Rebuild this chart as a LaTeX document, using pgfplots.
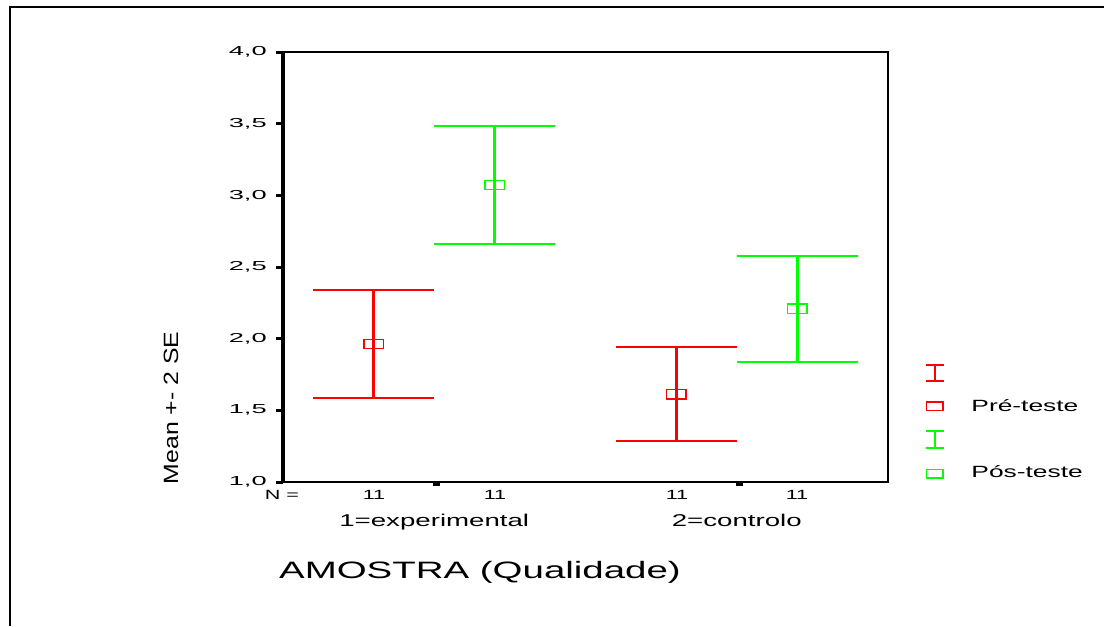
\documentclass[border=0pt]{standalone}
\usepackage{fontspec}
\setmainfont{Liberation Sans}[FakeStretch=1.62]
\newfontfamily\tickf{Liberation Sans}[FakeStretch=2.1]
\newfontfamily\ylabf{Liberation Sans}[FakeStretch=1.2]
\usepackage{pgfplots}
\usepackage{pgfplotstable}
\pgfplotsset{compat=1.18}

\definecolor{spssred}{RGB}{255,0,0}
\definecolor{spssgreen}{RGB}{0,255,0}

% mean and mean +- 2 SE per group
\pgfplotstableread{
x   mean  lo    hi
0.8 1.963 1.586 2.340
1.8 1.612 1.286 1.942
}\pretab
\pgfplotstableread{
x   mean  lo    hi
1.2 3.072 2.661 3.486
2.2 2.210 1.837 2.579
}\postab

\begin{document}
\begin{tikzpicture}
\path[use as bounding box] (0,0) rectangle (828pt,469.5pt);
\begin{axis}[
    at={(212.25pt,108pt)}, anchor=south west,
    scale only axis,
    width=453.75pt, height=322.5pt,
    xmin=0.5, xmax=2.5, ymin=1, ymax=4,
    ytick={1,1.5,2,2.5,3,3.5,4},
    xtick={1,2},
    xticklabels={1=experimental,2=controlo},
    xtick pos=bottom, ytick pos=left,
    tick align=outside,
    major tick length=5.25pt,
    xtick style={draw=none},
    ytick style={line width=2.25pt, black},
    axis line style={line width=1.5pt},
    /pgf/number format/.cd, use comma, fixed, fixed zerofill, precision=1, assume math mode=true, /pgfplots/.cd,
    yticklabel style={font=\tickf\fontsize{9.75}{10}\selectfont, anchor=east, inner sep=0pt, xshift=-6.75pt},
    xticklabel style={font=\fontsize{12.8}{14}\selectfont, anchor=base, inner sep=0pt, yshift=-28pt},
    clip=false,
    legend style={draw=none, fill=none, inner sep=0pt, outer sep=0pt,
        at={(1.0612,0.2767)}, anchor=north west,
        font=\fontsize{12.2}{14}\selectfont,
        row sep=0pt, column sep=20pt,
        nodes={inner sep=0pt, text height=12pt, text depth=12.6pt, anchor=west}},
    legend cell align=left,
]
\addplot[spssred, only marks, forget plot,
    mark=square, mark size=3.5pt, mark options={xscale=2.1, line width=1.1pt},
    error bars/.cd, y dir=both, y explicit, error mark=|,
    error bar style={line width=2.25pt, spssred},
    error mark options={spssred, line width=1.5pt, mark size=45.4pt}]
    table[x=x, y=mean, y error plus expr=\thisrow{hi}-\thisrow{mean}, y error minus expr=\thisrow{mean}-\thisrow{lo}] {\pretab};
\addplot[spssgreen, only marks, forget plot,
    mark=square, mark size=3.5pt, mark options={xscale=2.1, line width=1.1pt},
    error bars/.cd, y dir=both, y explicit, error mark=|,
    error bar style={line width=2.25pt, spssgreen},
    error mark options={spssgreen, line width=1.5pt, mark size=45.4pt}]
    table[x=x, y=mean, y error plus expr=\thisrow{hi}-\thisrow{mean}, y error minus expr=\thisrow{mean}-\thisrow{lo}] {\postab};

\addlegendimage{legend image code/.code={
    \draw[spssred, line width=1.3pt] (0pt,-1.4pt)--(13.5pt,-1.4pt) (0pt,10.6pt)--(13.5pt,10.6pt) (6.75pt,-1.4pt)--(6.75pt,10.6pt);}}
\addlegendentry{}
\addlegendimage{legend image code/.code={
    \draw[spssred, line width=1.1pt] (0.5pt,1.1pt) rectangle (13pt,7.5pt);}}
\addlegendentry{Pré-teste}
\addlegendimage{legend image code/.code={
    \draw[spssgreen, line width=1.3pt] (0pt,-2.5pt)--(13.5pt,-2.5pt) (0pt,10.3pt)--(13.5pt,10.3pt) (6.75pt,-2.5pt)--(6.75pt,10.3pt);}}
\addlegendentry{}
\addlegendimage{legend image code/.code={
    \draw[spssgreen, line width=1.1pt] (0.5pt,0pt) rectangle (13pt,6.4pt);}}
\addlegendentry{Pós-teste}
\end{axis}

% pixel frame: 1 px = 0.75 pt, origin at top left
\begin{scope}[x=0.75pt, y=-0.75pt, shift={(0pt,469.5pt)}]
\draw[line width=1.5pt] (10,626) -- (10,7) -- (1104,7);
\draw[line width=2.7pt] (283,482) -- (283,52);
\draw[line width=2pt] (283,482) -- (888,482);
\fill (433,482) rectangle (440,485.5);
\fill (735.5,482) rectangle (742.5,485.5);
\node[font=\fontsize{10}{11}\selectfont] at (282,495) {N =};
\foreach \xx in {374,495,677,797}
  \node[font=\fontsize{10}{11}\selectfont] at (\xx,495) {11};
\node[font=\fontsize{17.8}{20}\selectfont] at (480,572) {AMOSTRA (Qualidade)};
\node[rotate=90, font=\ylabf\fontsize{15.5}{18}\selectfont] at (171,408) {Mean +- 2 SE};
\end{scope}
\end{tikzpicture}
\end{document}
